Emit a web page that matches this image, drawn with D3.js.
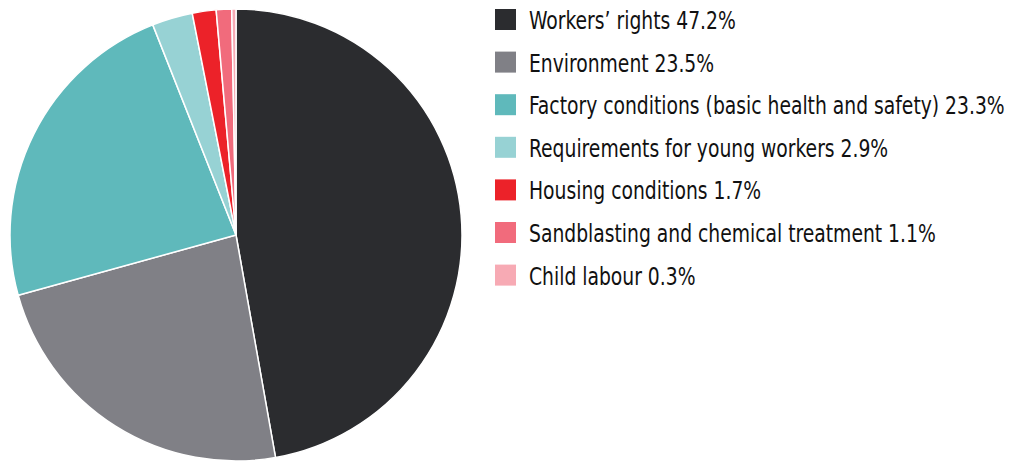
<!DOCTYPE html>
<html><head><meta charset="utf-8">
<script src="https://cdn.jsdelivr.net/npm/d3@7/dist/d3.min.js"></script>
<style>body{margin:0;background:#fff}svg{display:block}</style>
</head><body>
<svg id="chart" width="1033" height="461"></svg>
<script>
const categories = ["Workers\u2019 rights","Environment","Factory conditions (basic health and safety)","Requirements for young workers","Housing conditions","Sandblasting and chemical treatment","Child labour"];
const values = [47.2,23.5,23.3,2.9,1.7,1.1,0.3];
const colors = ["#2b2c2f","#808086","#5fb9bb","#97d2d4","#ec2229","#f16b7c","#f7aab4"];

const svg = d3.select("#chart");
const cx = 236, cy = 235, r = 226;
const data = categories.map((c,i)=>({name:c,value:values[i],color:colors[i]}));
const pie = d3.pie().value(d=>d.value).sort(null);
const arc = d3.arc().innerRadius(0).outerRadius(r);
svg.append("g").attr("transform",`translate(${cx},${cy})`)
  .selectAll("path").data(pie(data)).join("path")
  .attr("d",arc).attr("fill",d=>d.data.color)
  .attr("stroke","#fff").attr("stroke-width",1.5).attr("stroke-linejoin","round");

const y = d3.scaleBand().domain(categories).range([0, 42.6*7]).paddingInner(0);
const lg = svg.append("g").attr("transform","translate(495,9)");
const rows = lg.selectAll("g").data(data).join("g").attr("transform",d=>`translate(0,${y(d.name)})`);
rows.append("rect").attr("width",21).attr("height",21).attr("fill",d=>d.color);
const texts = rows.append("text")
  .attr("font-family","'DejaVu Sans Condensed','DejaVu Sans',sans-serif")
  .attr("font-stretch","condensed")
  .attr("font-size",25).attr("fill","#111")
  .text(d=>`${d.name} ${d.value.toFixed(1)}%`);
// condense horizontally so the widest label matches the reference width
const w = texts.nodes()[2].getComputedTextLength();
const k = 476/w;
texts.attr("transform",`translate(34,20) scale(${k},1)`);
</script>
</body></html>
